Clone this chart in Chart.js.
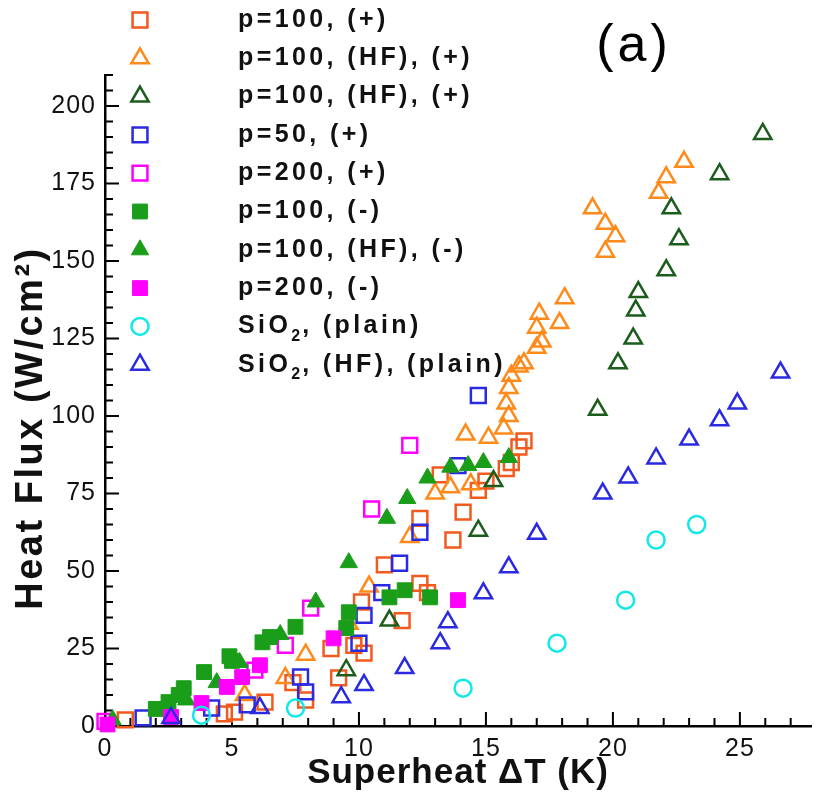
<!DOCTYPE html>
<html>
<head>
<meta charset="utf-8">
<title>Heat flux vs superheat</title>
<script src="https://cdn.jsdelivr.net/npm/chart.js@4.4.1/dist/chart.umd.min.js"></script>
<style>
    html, body { margin: 0; padding: 0; background: #fff; }
    canvas { display: block; }
</style>
</head>
<body>
<canvas id="fluxChart" width="824" height="795"></canvas>
<script>
// values: [superheat dT (K), heat flux (W/cm2)]
const p100Plus = [[0.8, 2], [4.7, 3.9], [5.1, 4.5], [6.3, 7.7], [7.4, 14], [7.9, 8.4], [8.9, 25], [9.2, 15.5],
    [9.8, 26], [10.2, 23.5], [10.1, 40], [11.0, 52], [11.7, 34], [12.4, 46], [12.7, 43], [12.4, 67],
    [13.2, 81], [13.7, 60], [14.1, 69], [14.7, 76], [15.0, 79], [15.8, 83], [16.0, 85], [16.3, 90], [16.5, 92]];
const p100HfPlus = [[5.5, 10], [7.1, 15.5], [7.9, 23], [9.6, 33], [10.4, 45], [12.0, 61], [13.0, 75], [13.6, 77],
    [14.4, 78], [14.2, 94], [15.1, 93], [15.7, 96], [15.9, 100], [15.8, 104], [15.9, 109], [16.0, 113],
    [16.3, 116], [16.5, 117], [17.0, 122], [17.2, 124], [17.0, 128.5], [17.1, 133], [17.9, 130], [18.1, 138],
    [19.7, 153], [20.1, 158], [19.7, 162], [19.2, 167], [21.8, 172], [22.1, 177], [22.8, 182]];
const p100HfPlusB = [[9.5, 18], [11.2, 34], [14.7, 63], [15.3, 79], [19.4, 102], [20.2, 117], [20.8, 125],
    [20.9, 134], [21.0, 140], [22.1, 147], [22.6, 157], [22.3, 167], [24.2, 178], [25.9, 191]];
const p50Plus = [[1.5, 2.6], [4.2, 5.8], [5.6, 6.8], [7.7, 15.8], [7.9, 11], [10.0, 26.7], [10.2, 35.7],
    [10.9, 43], [11.6, 52.5], [12.4, 62.5], [13.9, 84], [14.7, 106.6]];
const p200Plus = [[0, 1.5], [5.9, 18], [7.1, 26], [8.1, 38], [10.5, 70], [12.0, 90.5]];
const p100Minus = [[2.0, 5.5], [2.5, 7.7], [2.9, 10], [3.1, 12.2], [3.9, 17.4], [4.9, 22.5], [5.0, 21],
    [6.2, 27], [6.5, 28.7], [7.5, 32], [9.5, 31.6], [9.6, 36.7], [11.2, 41.5], [11.8, 43.8], [12.8, 41.5]];
const p100HfMinus = [[0.3, 2], [3.2, 8.4], [4.4, 14], [5.3, 20.5], [6.9, 29.5], [8.3, 40], [9.6, 52.7],
    [11.1, 67], [11.9, 73.4], [12.7, 80], [13.6, 83.5], [14.3, 84], [14.9, 85], [15.9, 86.6]];
const p200Minus = [[0.1, 0.5], [2.6, 2.9], [3.8, 7.4], [4.8, 12.6], [5.4, 15.8], [6.1, 19.6], [9.0, 28.3], [13.9, 40.6]];
const sio2Plain = [[3.8, 3.5], [7.5, 5.8], [14.1, 12.2], [17.8, 26.7], [20.5, 40.6], [21.7, 60], [23.3, 65]];
const sio2HfPlain = [[2.6, 2.6], [6.1, 5.8], [9.3, 9.3], [10.2, 13.2], [11.8, 18.7], [13.2, 26.7], [13.5, 33.5],
    [14.9, 42.8], [15.9, 51.2], [17.0, 62], [19.6, 75], [20.6, 80.2], [21.7, 86.3], [23.0, 92.4], [24.2, 98.6],
    [24.9, 104], [26.6, 114]];

const seriesLabels = ['p=100, (+)', 'p=100, (HF), (+)', 'p=100, (HF), (+)', 'p=50, (+)', 'p=200, (+)',
    'p=100, (-)', 'p=100, (HF), (-)', 'p=200, (-)', 'SiO\u2082, (plain)', 'SiO\u2082, (HF), (plain)'];
const xTickValues = [0, 5, 10, 15, 20, 25];
const yTickValues = [0, 25, 50, 75, 100, 125, 150, 175, 200];
const xTitle = 'Superheat \u0394T (K)';
const yTitle = 'Heat Flux (W/cm\u00b2)';

// marker look for each series: [colour, point style, filled]
const looks = [
    ['#f25a1e', 'rect', false],
    ['#ff8a1a', 'triangle', false],
    ['#1c5c1c', 'triangle', false],
    ['#2a2ae0', 'rect', false],
    ['#ff00ff', 'rect', false],
    ['#1a9e1a', 'rect', true],
    ['#1a9e1a', 'triangle', true],
    ['#ff00ff', 'rect', true],
    ['#12e8e8', 'circle', false],
    ['#2a2ae0', 'triangle', false]
];
const allSeries = [p100Plus, p100HfPlus, p100HfPlusB, p50Plus, p200Plus, p100Minus, p100HfMinus, p200Minus, sio2Plain, sio2HfPlain];

function markerRadius(style) {
    if (style === 'rect') return 10.5;
    if (style === 'circle') return 8.5;
    return 10;
}

const datasets = allSeries.map((pts, i) => {
    const [color, style, filled] = looks[i];
    return {
        label: seriesLabels[i],
        data: pts.map(p => ({ x: p[0], y: p[1] })),
        pointStyle: style,
        pointRadius: markerRadius(style),
        pointBorderWidth: filled ? 1 : 2.5,
        pointBorderColor: color,
        pointBackgroundColor: filled ? color : 'rgba(0,0,0,0)',
        showLine: false,
        clip: false,
        order: allSeries.length - i
    };
});

const FONT = '"Liberation Sans", Arial, sans-serif';

// ticks point into the plot: long every 5 K / 25 W, short every 1 K / 5 W
const inwardTicks = {
    id: 'inwardTicks',
    beforeDraw(chart) {
        chart.ctx.letterSpacing = '1px';
    },
    beforeDatasetsDraw(chart) {
        const { ctx, chartArea, scales: { x, y } } = chart;
        ctx.letterSpacing = '0px';
        ctx.save();
        ctx.strokeStyle = '#000';
        ctx.lineWidth = 2;
        ctx.beginPath();
        for (let k = 0; k <= Math.floor(x.max); k++) {
            const px = x.getPixelForValue(k);
            const len = k % 5 === 0 ? 14 : 8;
            ctx.moveTo(px, chartArea.bottom);
            ctx.lineTo(px, chartArea.bottom - len);
        }
        for (let k = 0; k <= y.max; k += 5) {
            const py = y.getPixelForValue(k);
            const len = k % 25 === 0 ? 14 : 8;
            ctx.moveTo(chartArea.left, py);
            ctx.lineTo(chartArea.left + len, py);
        }
        ctx.stroke();

        // y title, set a little below the axis middle like the original
        ctx.save();
        ctx.translate(32, 428);
        ctx.rotate(-Math.PI / 2);
        ctx.font = 'bold 38px ' + FONT;
        ctx.letterSpacing = '2.5px';
        ctx.fillStyle = '#111';
        ctx.textAlign = 'center';
        ctx.textBaseline = 'middle';
        ctx.fillText(yTitle, 0, 0);
        ctx.restore();
        ctx.restore();
    }
};

// legend block top-left and the panel tag
const sideLegend = {
    id: 'sideLegend',
    afterDraw(chart) {
        const ctx = chart.ctx;
        const textFont = 'bold 25px ' + FONT;
        ctx.save();
        chart.data.datasets.forEach((ds, i) => {
            const rowY = 20 + i * 38.3;
            ctx.strokeStyle = ds.pointBorderColor;
            ctx.fillStyle = ds.pointBackgroundColor;
            ctx.lineWidth = ds.pointBorderWidth;
            Chart.helpers.drawPoint(ctx, { pointStyle: ds.pointStyle, radius: ds.pointRadius, borderWidth: ds.pointBorderWidth, rotation: 0 }, 140, rowY);

            ctx.fillStyle = '#111';
            ctx.textBaseline = 'middle';
            ctx.letterSpacing = '3.4px';
            ctx.font = textFont;
            const parts = ds.label.split('\u2082');
            let tx = 238;
            ctx.fillText(parts[0], tx, rowY);
            if (parts.length > 1) {
                tx += ctx.measureText(parts[0]).width;
                ctx.font = 'bold 16px ' + FONT;
                ctx.letterSpacing = '2px';
                ctx.fillText('2', tx, rowY + 10);
                tx += ctx.measureText('2').width;
                ctx.font = textFont;
                ctx.letterSpacing = '3.4px';
                ctx.fillText(parts[1], tx, rowY);
            }
        });
        ctx.letterSpacing = '4px';
        ctx.font = '52px ' + FONT;
        ctx.fillStyle = '#000';
        ctx.textAlign = 'center';
        ctx.textBaseline = 'middle';
        ctx.fillText('(a)', 634, 47);
        ctx.restore();
    }
};

const tickFont = { family: FONT, size: 25 };

new Chart(document.getElementById('fluxChart'), {
    type: 'scatter',
    data: { datasets: datasets },
    options: {
        responsive: false,
        animation: false,
        layout: { padding: { left: 0, top: 75, right: 6, bottom: 0 } },
        plugins: {
            legend: { display: false },
            tooltip: { enabled: false }
        },
        scales: {
            x: {
                type: 'linear',
                min: 0,
                max: 27.8,
                grid: { display: false, drawTicks: false },
                border: { display: true, color: '#000', width: 2.5 },
                afterBuildTicks: scale => { scale.ticks = xTickValues.map(v => ({ value: v })); },
                afterFit: scale => { scale.height = 69; },
                ticks: { color: '#111', font: tickFont, padding: 8, maxRotation: 0 },
                title: { display: true, text: xTitle, color: '#111',
                    font: { family: FONT, weight: 'bold', size: 35 }, padding: { top: 0, bottom: 1 } }
            },
            y: {
                type: 'linear',
                min: 0,
                max: 210,
                grid: { display: false, drawTicks: false },
                border: { display: true, color: '#000', width: 2.5 },
                afterBuildTicks: scale => { scale.ticks = yTickValues.map(v => ({ value: v })); },
                afterFit: scale => { scale.width = 105; },
                ticks: { color: '#111', font: tickFont, padding: 9 },
                title: { display: false }
            }
        }
    },
    plugins: [inwardTicks, sideLegend]
});
</script>
</body>
</html>
